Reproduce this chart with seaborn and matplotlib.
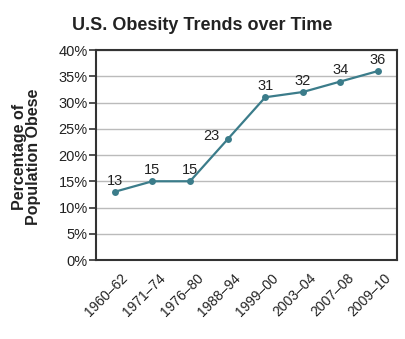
import matplotlib
matplotlib.use("Agg")
import matplotlib.pyplot as plt
import matplotlib.transforms as mtransforms
import seaborn as sns
import pandas as pd
import numpy as np

periods = ["1960–62", "1971–74", "1976–80", "1988–94", "1999–00", "2003–04", "2007–08", "2009–10"]
obese_pct = [13, 15, 15, 23, 31, 32, 34, 36]
y_ticks = [0, 5, 10, 15, 20, 25, 30, 35, 40]

sns.set_style("white")
plt.rcParams['font.family'] = ['Liberation Sans', 'DejaVu Sans']

df = pd.DataFrame({"period": periods, "pct": obese_pct})
df["x"] = range(len(periods))

fig = plt.figure(figsize=(4.05, 3.39), dpi=100)
ax = fig.add_axes([0.237, 0.233, 0.743, 0.6195])

line_color = "#3b7c8a"
sns.lineplot(data=df, x="x", y="pct", ax=ax, color=line_color, linewidth=1.6,
             marker="o", markersize=5, markeredgewidth=0)

for xi, v in zip(df["x"], df["pct"]):
    if v == 23:
        ax.annotate(str(v), (xi, v), xytext=(-12, 2), textcoords="offset points",
                    ha="center", va="center", fontsize=10.5, color="#222222")
    else:
        ax.annotate(str(v), (xi, v), xytext=(0, 3), textcoords="offset points",
                    ha="center", va="bottom", fontsize=10.5, color="#222222")

ax.set_xlim(-0.5, len(periods) - 0.5)
ax.set_ylim(0, 40)
ax.set_yticks(y_ticks)
ax.set_yticklabels([f"{t}%" for t in y_ticks], fontsize=10.5, color="#222222")
ax.yaxis.grid(True, color="#bbbbbb", linewidth=1)
ax.set_axisbelow(True)

ax.set_xticks(range(len(periods)))
ax.set_xticklabels(periods, rotation=45, ha="right", rotation_mode="anchor",
                   fontsize=10, color="#222222")
ax.tick_params(axis="x", which="major", length=0, pad=8)
offset = mtransforms.ScaledTranslation(6 / 100, 0, fig.dpi_scale_trans)
for lbl in ax.get_xticklabels():
    lbl.set_transform(lbl.get_transform() + offset)
ax.set_xticks(np.arange(-0.5, len(periods)), minor=True)
ax.tick_params(axis="x", which="minor", length=5, width=1.5, color="#333333", direction="inout")
ax.tick_params(axis="y", which="major", length=5, width=1.2, color="#333333", left=True, pad=1)

for s in ax.spines.values():
    s.set_visible(True)
    s.set_color("#333333")
    s.set_linewidth(1.5)

ax.set_xlabel("")
ax.set_ylabel("Percentage of\nPopulation Obese", fontsize=11.5, fontweight="bold",
              color="#222222", linespacing=0.95)
ax.yaxis.set_label_coords(-0.182, 0.49)

fig.text(0.5, 0.925, "U.S. Obesity Trends over Time", ha="center", va="center",
         fontsize=13, fontweight="bold", color="#222222")

fig.savefig("out.png", dpi=100)
